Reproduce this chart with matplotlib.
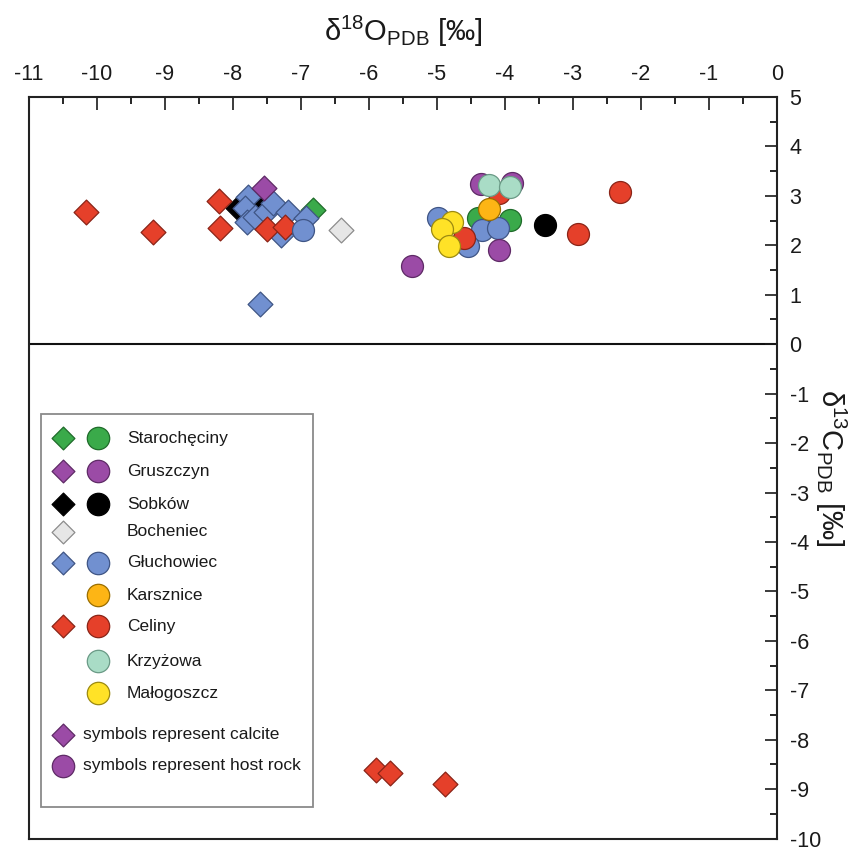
import matplotlib
matplotlib.use('Agg')
import matplotlib.pyplot as plt
from matplotlib.ticker import MultipleLocator
from matplotlib.patches import Rectangle

plt.rcParams['font.family'] = ['Liberation Sans', 'DejaVu Sans']
plt.rcParams['mathtext.fontset'] = 'custom'
plt.rcParams['mathtext.rm'] = 'Liberation Sans'
plt.rcParams['mathtext.it'] = 'Liberation Sans:italic'
plt.rcParams['axes.unicode_minus'] = False

# --- data: delta18O (x), delta13C (y), calcite (diamonds) and host rock (circles) ---
sites = ['Starochęciny', 'Gruszczyn', 'Sobków', 'Bocheniec', 'Głuchowiec',
         'Karsznice', 'Celiny', 'Krzyżowa', 'Małogoszcz']

staro_cal_x = [-6.83]
staro_cal_y = [2.71]
staro_host_x = [-4.39, -3.92]
staro_host_y = [2.55, 2.51]

grusz_cal_x = [-7.54]
grusz_cal_y = [3.15]
grusz_host_x = [-5.37, -4.09, -4.36, -3.90]
grusz_host_y = [1.59, 1.91, 3.25, 3.27]

sobkow_cal_x = [-7.93, -7.61]
sobkow_cal_y = [2.76, 2.74]
sobkow_host_x = [-3.41]
sobkow_host_y = [2.41]

boch_cal_x = [-6.41]
boch_cal_y = [2.32]

gluch_cal_x = [-7.78, -7.83, -7.80, -7.68, -7.51, -7.41, -7.19, -7.29, -6.92, -7.61]
gluch_cal_y = [2.98, 2.75, 2.48, 2.58, 2.68, 2.85, 2.68, 2.21, 2.55, 0.82]
gluch_host_x = [-6.97, -4.98, -4.34, -4.11, -4.54]
gluch_host_y = [2.31, 2.55, 2.31, 2.36, 1.98]

karsz_host_x = [-4.24]
karsz_host_y = [2.73]

celiny_cal_x = [-10.16, -9.18, -8.21, -8.19, -7.50, -7.24, -5.89, -5.69, -4.88]
celiny_cal_y = [2.68, 2.26, 2.89, 2.36, 2.34, 2.38, -8.62, -8.67, -8.90]
celiny_host_x = [-4.09, -2.31, -2.93, -4.61]
celiny_host_y = [3.05, 3.08, 2.23, 2.14]

krzyz_host_x = [-4.23, -3.93]
krzyz_host_y = [3.22, 3.18]

malog_host_x = [-4.78, -4.93, -4.82]
malog_host_y = [2.48, 2.34, 1.98]

# fill / edge colours per site
fills = {'Starochęciny': '#3aaa4a', 'Gruszczyn': '#9b4ba6', 'Sobków': '#000000',
         'Bocheniec': '#e6e6e6', 'Głuchowiec': '#7190d0', 'Karsznice': '#fdb515',
         'Celiny': '#e5402a', 'Krzyżowa': '#a9dcc6', 'Małogoszcz': '#ffe227'}
edges = {'Starochęciny': '#1f6b2a', 'Gruszczyn': '#5e2a66', 'Sobków': '#000000',
         'Bocheniec': '#8c8c8c', 'Głuchowiec': '#3f5585', 'Karsznice': '#9a6e00',
         'Celiny': '#8a2417', 'Krzyżowa': '#6a9a86', 'Małogoszcz': '#9c8a10'}

DS = 160   # diamond size
CS = 250   # circle size
TXT = '#1a1a1a'

fig = plt.figure(figsize=(8.58, 8.52), dpi=100)
ax = fig.add_axes([0.0338, 0.0158, 0.8718, 0.8703])

ax.axhline(0, color='#111111', lw=1.5, zorder=1)

def dia(x, y, site, z):
    ax.scatter(x, y, s=DS, marker='D', c=fills[site], edgecolors=edges[site], linewidths=0.9, zorder=z)

def circ(x, y, site, z):
    ax.scatter(x, y, s=CS, marker='o', c=fills[site], edgecolors=edges[site], linewidths=0.9, zorder=z)

# calcite diamonds
dia(sobkow_cal_x, sobkow_cal_y, 'Sobków', 2)
dia(staro_cal_x, staro_cal_y, 'Starochęciny', 3)
dia(boch_cal_x, boch_cal_y, 'Bocheniec', 3)
dia(gluch_cal_x, gluch_cal_y, 'Głuchowiec', 4)
dia(grusz_cal_x, grusz_cal_y, 'Gruszczyn', 5)
dia(celiny_cal_x, celiny_cal_y, 'Celiny', 6)

# host rock circles
circ(staro_host_x, staro_host_y, 'Starochęciny', 7)
circ(gluch_host_x, gluch_host_y, 'Głuchowiec', 8)
circ(celiny_host_x, celiny_host_y, 'Celiny', 9)
circ(grusz_host_x, grusz_host_y, 'Gruszczyn', 10)
circ(krzyz_host_x, krzyz_host_y, 'Krzyżowa', 11)
circ(karsz_host_x, karsz_host_y, 'Karsznice', 12)
circ(malog_host_x, malog_host_y, 'Małogoszcz', 13)
circ(sobkow_host_x, sobkow_host_y, 'Sobków', 13)

ax.set_xlim(-11, 0)
ax.set_ylim(-10, 5)

ax.xaxis.tick_top()
ax.xaxis.set_label_position('top')
ax.yaxis.tick_right()
ax.yaxis.set_label_position('right')
ax.xaxis.set_major_locator(MultipleLocator(1))
ax.xaxis.set_minor_locator(MultipleLocator(0.5))
ax.yaxis.set_major_locator(MultipleLocator(1))
ax.yaxis.set_minor_locator(MultipleLocator(0.5))
ax.tick_params(which='major', direction='in', length=9, width=1.2, labelsize=15.5,
               colors=TXT, pad=9)
ax.tick_params(which='minor', direction='in', length=5, width=1.2)
ax.tick_params(axis='x', which='both', top=True, bottom=False)
ax.tick_params(axis='y', which='both', right=True, left=False)
for sp in ax.spines.values():
    sp.set_linewidth(1.5)
    sp.set_color('#222222')

ax.set_xlabel('δ$^{18}$O$_{\\mathrm{PDB}}$ [‰]', fontsize=21, color=TXT, labelpad=16)
ax.set_ylabel('δ$^{13}$C$_{\\mathrm{PDB}}$ [‰]', fontsize=21, color=TXT, rotation=270,
              labelpad=20)

# --- legend drawn by hand (axes fraction coordinates) ---
ax.add_patch(Rectangle((0.016, 0.043), 0.364, 0.5296, transform=ax.transAxes,
                       fill=False, edgecolor='#8a8a8a', lw=1.3, zorder=20))
row_y = [0.540, 0.495, 0.451, 0.414, 0.372, 0.328, 0.286, 0.239, 0.196]
has_dia = [True, True, True, True, True, False, True, False, False]
has_circ = [True, True, True, False, True, True, True, True, True]
for site, yy, d, c in zip(sites, row_y, has_dia, has_circ):
    if d:
        ax.scatter([0.0455], [yy], s=135, marker='D', c=fills[site], edgecolors=edges[site],
                   linewidths=0.9, transform=ax.transAxes, zorder=21, clip_on=False)
    if c:
        ax.scatter([0.0922], [yy], s=260, marker='o', c=fills[site], edgecolors=edges[site],
                   linewidths=0.9, transform=ax.transAxes, zorder=21, clip_on=False)
    ax.text(0.131, yy, site, transform=ax.transAxes, fontsize=12.5, color=TXT,
            va='center', ha='left', zorder=21)

ax.scatter([0.0455], [0.140], s=135, marker='D', c=fills['Gruszczyn'], edgecolors=edges['Gruszczyn'],
           linewidths=0.9, transform=ax.transAxes, zorder=21)
ax.text(0.072, 0.140, 'symbols represent calcite', transform=ax.transAxes, fontsize=12.5,
        color=TXT, va='center', ha='left', zorder=21)
ax.scatter([0.0455], [0.098], s=260, marker='o', c=fills['Gruszczyn'], edgecolors=edges['Gruszczyn'],
           linewidths=0.9, transform=ax.transAxes, zorder=21)
ax.text(0.072, 0.098, 'symbols represent host rock', transform=ax.transAxes, fontsize=12.5,
        color=TXT, va='center', ha='left', zorder=21)

fig.savefig('out.png', dpi=100)
